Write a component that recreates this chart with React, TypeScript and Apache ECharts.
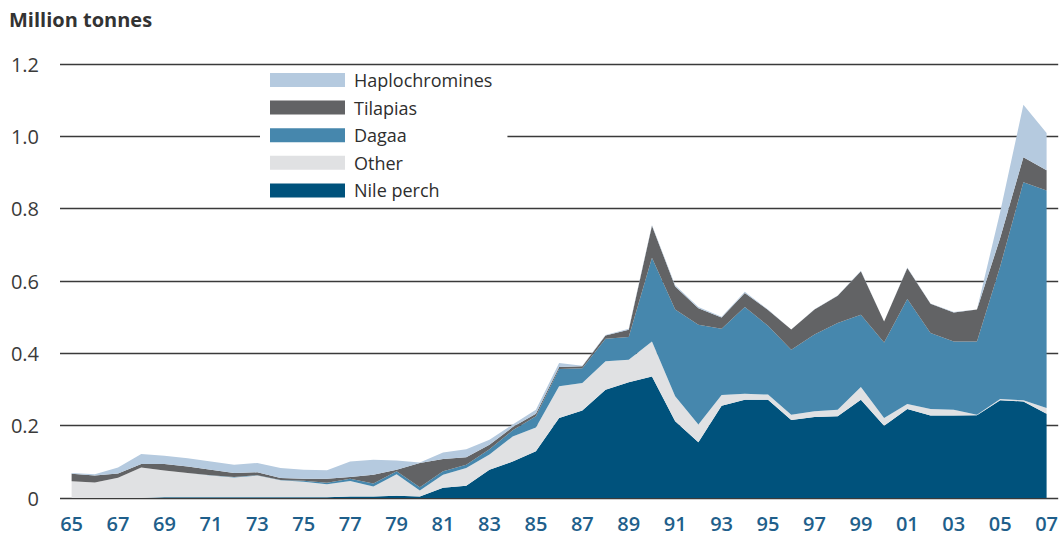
import React, { useEffect, useRef } from "react";
import * as echarts from "echarts";

const years = [
  "65","66","67","68","69","70","71","72","73","74","75","76","77","78","79","80",
  "81","82","83","84","85","86","87","88","89","90","91","92","93","94","95","96",
  "97","98","99","00","01","02","03","04","05","06","07",
];

const nilePerch = [
  0, 0, 0, 0, 0.002, 0.002, 0.002, 0.002, 0.002, 0.002, 0.002, 0.002, 0.004, 0.004, 0.006, 0.004,
  0.028, 0.034, 0.078, 0.101, 0.129, 0.221, 0.242, 0.299, 0.32, 0.336, 0.212, 0.154, 0.255, 0.272, 0.272, 0.216,
  0.224, 0.226, 0.272, 0.2, 0.246, 0.228, 0.228, 0.229, 0.27, 0.267, 0.233,
];
const other = [
  0.046, 0.043, 0.056, 0.084, 0.074, 0.067, 0.06, 0.055, 0.06, 0.047, 0.043, 0.036, 0.043, 0.028, 0.06, 0.017,
  0.036, 0.049, 0.042, 0.069, 0.066, 0.088, 0.076, 0.079, 0.062, 0.097, 0.069, 0.049, 0.03, 0.016, 0.014, 0.014,
  0.016, 0.018, 0.035, 0.021, 0.014, 0.018, 0.016, 0.001, 0.004, 0.003, 0.016,
];
const dagaa = [
  0, 0, 0, 0, 0, 0, 0.001, 0.001, 0.001, 0.001, 0.003, 0.004, 0.006, 0.008, 0.008, 0.009,
  0.01, 0.009, 0.015, 0.017, 0.031, 0.048, 0.041, 0.062, 0.063, 0.231, 0.24, 0.276, 0.183, 0.24, 0.19, 0.18,
  0.212, 0.24, 0.2, 0.209, 0.29, 0.21, 0.189, 0.203, 0.366, 0.603, 0.601,
];
const tilapias = [
  0.021, 0.019, 0.012, 0.01, 0.018, 0.018, 0.015, 0.011, 0.008, 0.005, 0.005, 0.011, 0.005, 0.024, 0.004, 0.067,
  0.034, 0.021, 0.012, 0.009, 0.007, 0.005, 0.005, 0.009, 0.02, 0.089, 0.064, 0.046, 0.031, 0.039, 0.044, 0.056,
  0.069, 0.075, 0.12, 0.058, 0.086, 0.081, 0.08, 0.088, 0.079, 0.069, 0.056,
];
const haplochromines = [
  0.002, 0.004, 0.016, 0.028, 0.023, 0.023, 0.023, 0.023, 0.026, 0.028, 0.025, 0.024, 0.043, 0.042, 0.026, 0.001,
  0.018, 0.022, 0.014, 0.007, 0.011, 0.011, 0.002, 0.002, 0.003, 0.002, 0.003, 0.003, 0.002, 0.003, 0.001, 0,
  0.001, 0.001, 0.001, 0, 0.001, 0.001, 0.001, 0, 0.072, 0.145, 0.103,
];

const seriesDefs = [
  { name: "Nile perch", data: nilePerch, color: "#00527c" },
  { name: "Other", data: other, color: "#e0e1e3" },
  { name: "Dagaa", data: dagaa, color: "#4687ad" },
  { name: "Tilapias", data: tilapias, color: "#626365" },
  { name: "Haplochromines", data: haplochromines, color: "#b5cadf" },
];

const legendOrder = ["Haplochromines", "Tilapias", "Dagaa", "Other", "Nile perch"];
const FONT = "'Open Sans', 'Noto Sans', sans-serif";

export default function App() {
  const ref = useRef<HTMLDivElement>(null);
  useEffect(() => {
    if (!ref.current) return;
    const chart = echarts.init(ref.current, undefined, { renderer: "svg" });
    chart.setOption({
      animation: false,
      backgroundColor: "#ffffff",
      textStyle: { fontFamily: FONT },
      title: {
        text: "Million tonnes",
        left: 4,
        top: 4,
        textStyle: { fontSize: 20, fontWeight: "bold", color: "#333333", fontFamily: FONT },
      },
      legend: {
        data: legendOrder,
        orient: "vertical",
        left: 260,
        top: 66,
        padding: [5, 15, 5, 10],
        backgroundColor: "#ffffff",
        icon: "rect",
        itemWidth: 75,
        itemHeight: 14,
        itemGap: 9.6,
        textStyle: { fontSize: 18, color: "#2e2e2e", fontFamily: FONT, padding: [0, 0, 0, 4] },
      },
      grid: { left: 60, right: 0, top: 64, bottom: 41, containLabel: false },
      xAxis: {
        type: "category",
        data: years,
        boundaryGap: true,
        axisLine: { show: false },
        axisTick: { show: false },
        axisLabel: {
          interval: 1,
          margin: 15,
          fontSize: 20,
          fontWeight: 600,
          color: "#1f5f8b",
          fontFamily: FONT,
        },
      },
      yAxis: {
        type: "value",
        min: 0,
        max: 1.2,
        interval: 0.2,
        axisLine: { show: false },
        axisTick: { show: false },
        splitLine: { lineStyle: { color: "#3a3a3a", width: 1.3 } },
        axisLabel: {
          margin: 21,
          fontSize: 20,
          color: "#3a3a3a",
          fontFamily: FONT,
          padding: [0, 0, 6, 0],
          formatter: (v: number) => (v === 0 ? "0" : v.toFixed(1)),
        },
      },
      series: seriesDefs.map((s) => ({
        name: s.name,
        type: "line",
        stack: "total",
        data: s.data,
        symbol: "none",
        smooth: false,
        lineStyle: { width: 0 },
        itemStyle: { color: s.color },
        areaStyle: { color: s.color, opacity: 1 },
      })),
    });
    return () => chart.dispose();
  }, []);
  return (
    <div
      ref={ref}
      style={{ position: "absolute", left: 0, top: 0, width: 1061, height: 539 }}
    />
  );
}
